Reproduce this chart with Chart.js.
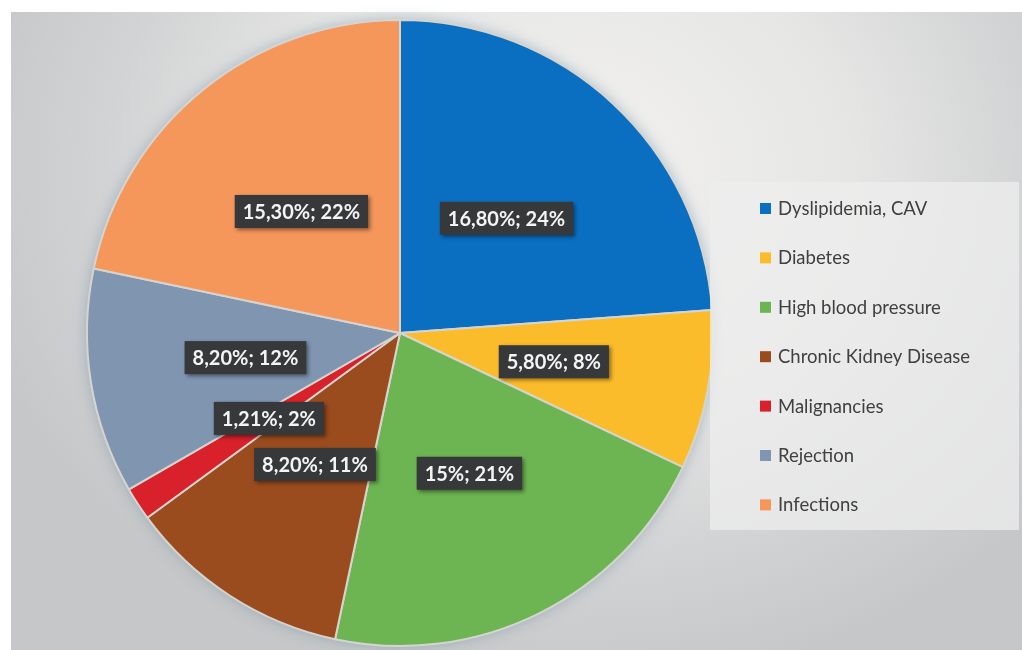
<!DOCTYPE html>
<html lang="en">
<head>
<meta charset="UTF-8">
<title>Causes pie chart</title>
<script src="https://cdn.jsdelivr.net/npm/chart.js"></script>
<style>
  html, body { margin: 0; padding: 0; background: #ffffff; }
  #wrap { position: relative; width: 1022px; height: 650px; }
  #bg {
    position: absolute; left: 11px; top: 12px; width: 1011px; height: 638px;
    background: radial-gradient(ellipse 620px 520px at 560px 160px, #f3f2f0 0%, #e6e6e5 45%, #d2d3d4 75%, #c5c7c8 100%);
  }
  #pie { position: absolute; left: 0; top: 0; }
</style>
</head>
<body>
<div id="wrap">
  <div id="bg"></div>
  <canvas id="pie" width="1022" height="650"></canvas>
</div>
<script>
const categories = ['Dyslipidemia, CAV', 'Diabetes', 'High blood pressure', 'Chronic Kidney Disease', 'Malignancies', 'Rejection', 'Infections'];
const values = [16.80, 5.80, 15, 8.20, 1.21, 8.20, 15.30];
const valueLabels = ['16,80%', '5,80%', '15%', '8,20%', '1,21%', '8,20%', '15,30%'];
const shareLabels = ['24%', '8%', '21%', '11%', '2%', '12%', '22%'];
const colors = ['#0b6fc1', '#fbbc2b', '#6db553', '#9b4c1e', '#d9212c', '#7f95b0', '#f5965b'];

// soft glow under the pie
const pieShadow = {
  id: 'pieShadow',
  beforeDatasetsDraw(chart) {
    const ctx = chart.ctx;
    const arc = chart.getDatasetMeta(0).data[0];
    ctx.save();
    ctx.beginPath();
    ctx.arc(arc.x, arc.y, arc.outerRadius, 0, Math.PI * 2);
    ctx.shadowColor = 'rgba(110,140,160,0.55)';
    ctx.shadowBlur = 14;
    ctx.fillStyle = '#cfd8dd';
    ctx.fill();
    ctx.restore();
  }
};

// dark boxes with "value; share" at each arc's center point
const sliceLabels = {
  id: 'sliceLabels',
  afterDatasetsDraw(chart) {
    const ctx = chart.ctx;
    ctx.save();
    ctx.font = 'bold 20px Lato, "Noto Sans", sans-serif';
    ctx.textAlign = 'center';
    ctx.textBaseline = 'middle';
    chart.getDatasetMeta(0).data.forEach((arc, i) => {
      const p = arc.getCenterPoint();
      const txt = valueLabels[i] + '; ' + shareLabels[i];
      const w = ctx.measureText(txt).width + 16;
      const h = 33;
      ctx.shadowColor = 'rgba(0,0,0,0.45)';
      ctx.shadowBlur = 4;
      ctx.shadowOffsetX = 2;
      ctx.shadowOffsetY = 2;
      ctx.fillStyle = '#363839';
      ctx.fillRect(p.x - w / 2, p.y - h / 2, w, h);
      ctx.shadowColor = 'transparent';
      ctx.fillStyle = '#f4f4f4';
      ctx.fillText(txt, p.x, p.y + 1);
    });
    ctx.restore();
  }
};

// legend panel on the right
const sideLegend = {
  id: 'sideLegend',
  afterDraw(chart) {
    const ctx = chart.ctx;
    ctx.save();
    ctx.fillStyle = 'rgba(238,238,237,0.75)';
    ctx.fillRect(710, 182, 309, 348);
    ctx.font = '18.5px Lato, "Noto Sans", sans-serif';
    ctx.textBaseline = 'middle';
    const ds = chart.data.datasets[0];
    chart.data.labels.forEach((lab, i) => {
      const y = 208 + i * 49.4;
      ctx.fillStyle = ds.backgroundColor[i];
      ctx.fillRect(760, y - 5, 11, 11);
      ctx.fillStyle = '#404040';
      ctx.fillText(lab, 778, y + 1);
    });
    ctx.restore();
  }
};

new Chart(document.getElementById('pie'), {
  type: 'pie',
  data: {
    labels: categories,
    datasets: [{
      data: values,
      backgroundColor: colors,
      borderColor: '#d6d4cf',
      borderWidth: 2
    }]
  },
  options: {
    responsive: false,
    animation: false,
    layout: { padding: { left: 86, right: 308, top: 19, bottom: 3 } },
    plugins: {
      legend: { display: false },
      tooltip: { enabled: false }
    }
  },
  plugins: [pieShadow, sliceLabels, sideLegend]
});
</script>
</body>
</html>
